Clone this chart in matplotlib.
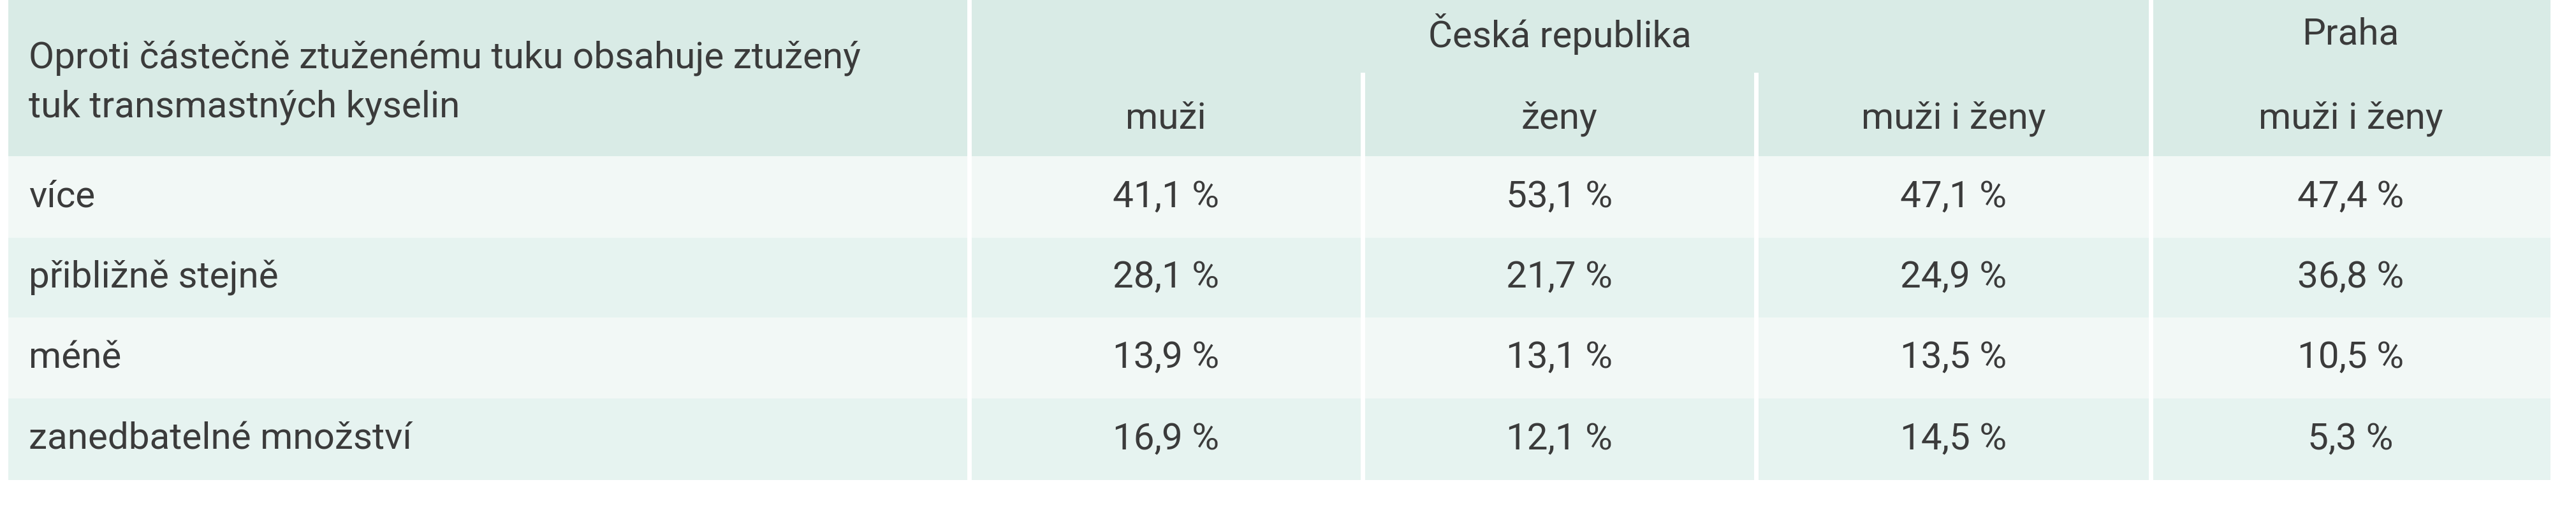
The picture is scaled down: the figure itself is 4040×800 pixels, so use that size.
import matplotlib
matplotlib.use("Agg")
import matplotlib.pyplot as plt
from matplotlib.patches import Rectangle
from matplotlib import font_manager as fm

row_labels = ["více", "přibližně stejně", "méně", "zanedbatelné množství"]
cz_muzi = ["41,1 %", "28,1 %", "13,9 %", "16,9 %"]
cz_zeny = ["53,1 %", "21,7 %", "13,1 %", "12,1 %"]
cz_oba = ["47,1 %", "24,9 %", "13,5 %", "14,5 %"]
praha_oba = ["47,4 %", "36,8 %", "10,5 %", "5,3 %"]
header_left = "Oproti částečně ztuženému tuku obsahuje ztužený\ntuk transmastných kyselin"
group_labels = ["Česká republika", "Praha"]
sub_labels = ["muži", "ženy", "muži i ženy", "muži i ženy"]

names = {f.name for f in fm.fontManager.ttflist}
fam = ["Liberation Sans Narrow"] if "Liberation Sans Narrow" in names else ["Roboto"]
fam = fam + ["DejaVu Sans"]

W, H = 4041, 800
fig = plt.figure(figsize=(W/100, H/100), dpi=100)
ax = fig.add_axes([0, 0, 1, 1])
ax.set_xlim(0, W); ax.set_ylim(H, 0); ax.axis("off")

x0, x1, x2, x3, x4, x5 = 13, 1520, 2137, 2754, 3373, 4000
hdr_bot = 245
row_bot = [373, 498, 625, 753]
txt = "#3b3b3b"
fs = 42

ax.add_patch(Rectangle((x0, 0), x5-x0, hdr_bot, color="#d9ebe6", lw=0))
tops = [hdr_bot] + row_bot[:-1]
for i, (t, b) in enumerate(zip(tops, row_bot)):
    ax.add_patch(Rectangle((x0, t), x5-x0, b-t, color="#f2f8f6" if i % 2 == 0 else "#e6f3f0", lw=0))
for x in (x1, x4):
    ax.plot([x, x], [0, row_bot[-1]], color="white", lw=5)
for x in (x2, x3):
    ax.plot([x, x], [117, row_bot[-1]], color="white", lw=5)

ax.text(45, 130, header_left, fontsize=fs, family=fam, color=txt, va="center", ha="left", linespacing=1.5)
ax.text((x1+x4)/2, 54, group_labels[0], fontsize=fs, family=fam, color=txt, ha="center", va="center")
ax.text((x4+x5)/2, 54, group_labels[1], fontsize=fs, family=fam, color=txt, ha="center", va="center")
centers = [(x1+x2)/2, (x2+x3)/2, (x3+x4)/2, (x4+x5)/2]
for c, s in zip(centers, sub_labels):
    ax.text(c, 186, s, fontsize=fs, family=fam, color=txt, ha="center", va="center")
cols = [cz_muzi, cz_zeny, cz_oba, praha_oba]
for i, (t, b) in enumerate(zip(tops, row_bot)):
    y = (t+b)/2
    ax.text(45, y, row_labels[i], fontsize=fs, family=fam, color=txt, ha="left", va="center")
    for c, col in zip(centers, cols):
        ax.text(c, y, col[i], fontsize=fs, family=fam, color=txt, ha="center", va="center")

fig.savefig("out.png", dpi=100)
